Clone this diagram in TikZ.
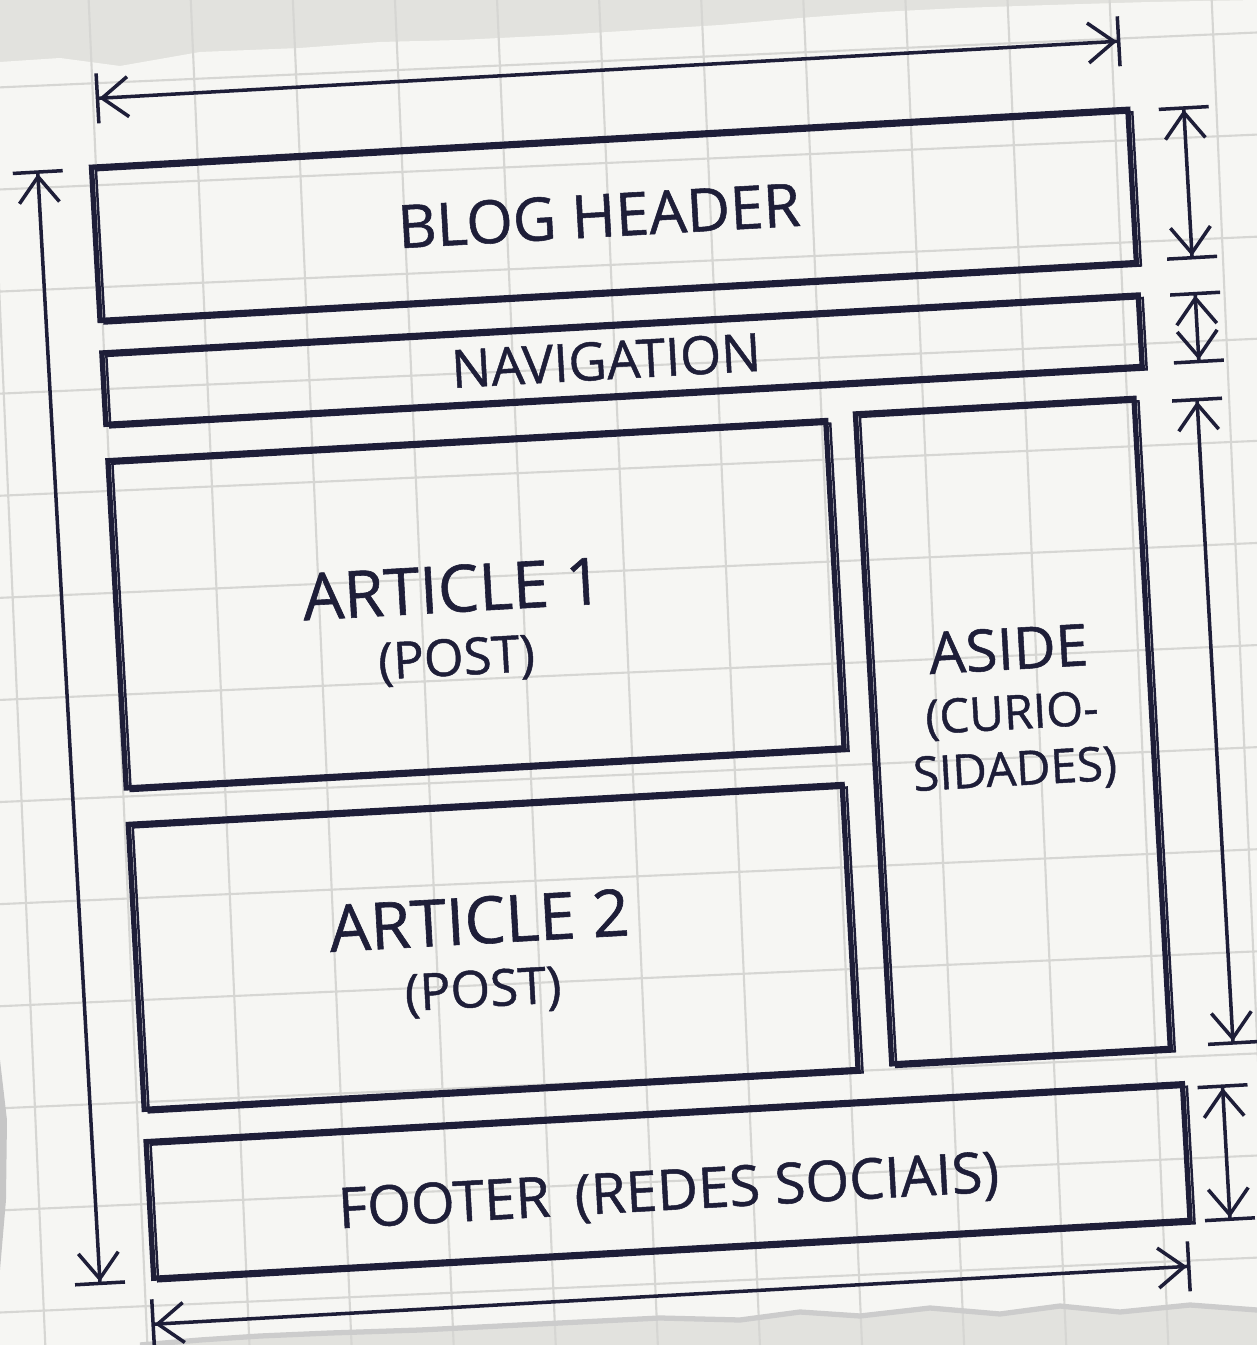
\documentclass[tikz,border=0pt]{standalone}
\usepackage{fontspec}
\setmainfont{Open Sans}[FakeBold=0.9]
\usepackage{tikz}
\usetikzlibrary{positioning,calc,arrows.meta}
\definecolor{ink}{RGB}{30,30,56}
\definecolor{sheet}{RGB}{246,246,243}
\definecolor{undersheet}{RGB}{226,226,222}
\definecolor{gridgray}{RGB}{214,214,211}
\tikzstyle{box}=[%
      rectangle, draw=ink, line width=1.5pt, fill=none, text=ink,
      align=center, inner sep=0pt, outer sep=0pt,
      postaction={draw=ink, line width=0.7pt, transform canvas={shift={(0.45mm,-0.3mm)}}}
]
\tikzstyle{dim}=[%
      draw=ink, line width=1pt,
      arrows={Bar[width=5mm]Straight Barb[length=2.6mm,width=4mm]-Straight Barb[length=2.6mm,width=4mm]Bar[width=5mm]}
]
\tikzstyle{gridlines}=[draw=gridgray, line width=0.6pt]
\tikzstyle{bigtext}=[font=\fontsize{18.5}{18}\selectfont]
\newcommand{\smalltext}{\fontsize{14.5}{18}\selectfont}
\newcommand{\asidetext}{\fontsize{13.5}{14}\selectfont}

\begin{document}
\begin{tikzpicture}
    \useasboundingbox (-6.285,-6.725) rectangle (6.285,6.725);
    \fill[undersheet] (-6.285,-6.725) rectangle (6.285,6.725);
    \fill[sheet] (-6.285,6.105) -- (-5.685,6.145) -- (-5.085,6.065) -- (-4.285,6.205)
          -- (-3.285,6.245) -- (-2.485,6.305) -- (-1.685,6.325) -- (-0.685,6.375)
          -- (0.115,6.425) -- (0.915,6.475) -- (1.715,6.545) -- (2.515,6.605)
          -- (3.315,6.645) -- (4.215,6.675) -- (5.215,6.705) -- (6.285,6.725)
          -- (6.285,-6.375) -- (5.615,-6.325) -- (4.915,-6.395) -- (4.315,-6.335)
          -- (3.715,-6.415) -- (3.015,-6.355) -- (2.315,-6.435) -- (1.715,-6.395)
          -- (1.115,-6.475) -- (0.315,-6.455) -- (-0.485,-6.495) -- (-1.285,-6.535)
          -- (-2.085,-6.575) -- (-2.985,-6.605) -- (-3.685,-6.635) -- (-4.285,-6.675)
          -- (-4.885,-6.725) -- (-6.285,-6.725) -- cycle;
    \begin{scope}
      \clip (-6.285,-6.725) rectangle (6.285,6.725);
      \draw[gridlines, step=1.02cm, rotate=2.5] (-8,-8) grid (8,8);
    \end{scope}
    \fill[gray!45] (-6.285,-3.875) -- (-6.215,-4.475) -- (-6.225,-5.275) -- (-6.285,-5.975) -- cycle;
    \draw[gray!40, line width=1.5pt] (6.285,-6.375) -- (5.615,-6.325) -- (4.915,-6.395)
          -- (4.315,-6.335) -- (3.715,-6.415) -- (3.015,-6.355) -- (2.315,-6.435)
          -- (1.715,-6.395) -- (1.115,-6.475) -- (0.315,-6.455) -- (-0.485,-6.495)
          -- (-1.285,-6.535) -- (-2.085,-6.575) -- (-2.985,-6.605) -- (-3.685,-6.635)
          -- (-4.285,-6.675) -- (-4.885,-6.725);

    \begin{scope}[rotate=3.2, transform shape]
    \node[box, font=\fontsize{17}{18}\selectfont, minimum width=10.38cm, minimum height=1.535cm]
          (header) at (0.11,4.5775) {BLOG HEADER\kern0.3cm};
    \node[box, minimum width=10.38cm, minimum height=0.715cm, font=\fontsize{15}{18}\selectfont]
          (nav) [below = 0.325cm of header] {NAVIGATION\kern0.32cm};
    \node[box, bigtext, minimum width=7.19cm, minimum height=3.278cm]
          (art1) [below right = 0.364cm and 0cm of nav.south west]
          {\mbox{}\\[6pt]ARTICLE 1\kern0.45cm\\{\smalltext (POST)}\kern0.45cm};
    \node[box, bigtext, minimum width=7.15cm, minimum height=2.854cm]
          (art2) [below right = 0.365cm and 0cm of art1.south west]
          {\mbox{}\\[0pt]ARTICLE 2\kern0.25cm\\{\smalltext (POST)}\kern0.25cm};
    \node[box, font=\fontsize{16.5}{18}\selectfont, minimum width=2.79cm, minimum height=6.51cm]
          (aside) [above right = 0.05cm and 0.30cm of art1.north east, anchor = north west]
          {ASIDE\\[-1pt]{\asidetext (CURIO-}\\[-2pt]{\asidetext SIDADES)}\\[-4pt]\mbox{}};
    \node[box, font=\fontsize{16}{18}\selectfont, minimum width=10.38cm, minimum height=1.368cm]
          (footer) [below right = 0.324cm and 0cm of art2.south west]
          {\mbox{}\\[1pt]FOOTER\kern0.1cm{} (REDES SOCIAIS)};

    \coordinate (wtop1) at ($(header.north west)+(0.08,0.685)$);
    \coordinate (wtop2) at ($(header.north east)+(-0.035,0.685)$);
    \coordinate (hall1) at ($(header.north west)+(-0.54,0)$);
    \coordinate (hall2) at ($(footer.south west)+(-0.54,-0.04)$);
    \coordinate (hhead1) at ($(header.north east)+(0.56,0)$);
    \coordinate (hhead2) at ($(header.south east)+(0.56,0)$);
    \coordinate (hnav1) at ($(nav.north east)+(0.57,0)$);
    \coordinate (hnav2) at ($(nav.south east)+(0.57,0)$);
    \coordinate (haside1) at ($(aside.north east)+(0.63,-0.03)$);
    \coordinate (haside2) at ($(aside.south east)+(0.63,0)$);
    \coordinate (hfoot1) at ($(footer.north east)+(0.40,-0.03)$);
    \coordinate (hfoot2) at ($(footer.south east)+(0.40,-0.03)$);
    \coordinate (wbot1) at ($(footer.south west)+(-0.05,-0.46)$);
    \coordinate (wbot2) at ($(footer.south east)+(-0.02,-0.46)$);

    \path (wtop1) edge[dim] (wtop2)
          (hall1) edge[dim] (hall2)
          (hhead1) edge[dim] (hhead2)
          (hnav1) edge[dim] (hnav2)
          (haside1) edge[dim] (haside2)
          (hfoot1) edge[dim] (hfoot2)
          (wbot1) edge[dim] (wbot2)
    ;
    \end{scope}
\end{tikzpicture}
\end{document}
